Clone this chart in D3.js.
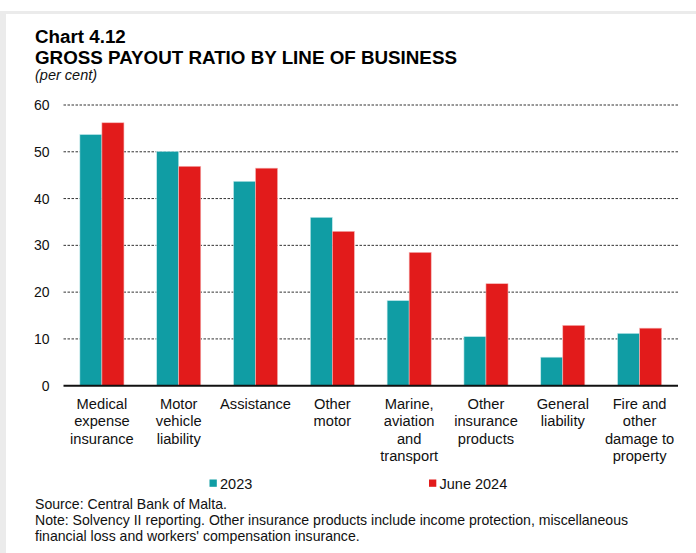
<!DOCTYPE html>
<html><head><meta charset="utf-8">
<script src="https://cdn.jsdelivr.net/npm/d3@7"></script>
<style>body{margin:0;background:#fff;}svg{display:block;font-family:"Liberation Sans",Arial,sans-serif;}</style>
</head><body>
<svg id="c" width="696" height="553"></svg>
<script>
const categories = [
  ["Medical","expense","insurance"],
  ["Motor","vehicle","liability"],
  ["Assistance"],
  ["Other","motor"],
  ["Marine,","aviation","and","transport"],
  ["Other","insurance","products"],
  ["General","liability"],
  ["Fire and","other","damage to","property"]
];
const series2023 = [53.7, 50.1, 43.7, 36.0, 18.2, 10.5, 6.1, 11.2];
const seriesJune2024 = [56.2, 46.9, 46.5, 33.0, 28.5, 21.8, 12.9, 12.3];
const seriesNames = ["2023", "June 2024"];
const yTicks = [0, 10, 20, 30, 40, 50, 60];
const colors = ["#109da4", "#e21b1b"];

const svg = d3.select("#c");
// frame
svg.append("rect").attr("x", 0).attr("y", 11).attr("width", 696).attr("height", 3).attr("fill", "#ebebeb");
svg.append("rect").attr("x", 0).attr("y", 11).attr("width", 6).attr("height", 560).attr("fill", "#ebebeb");

svg.append("text").attr("x", 35).attr("y", 42.5).attr("font-size", 18.8).attr("font-weight", "bold").attr("fill", "#000").text("Chart 4.12");
svg.append("text").attr("x", 35).attr("y", 63.5).attr("font-size", 18.8).attr("font-weight", "bold").attr("fill", "#000").text("GROSS PAYOUT RATIO BY LINE OF BUSINESS");
svg.append("text").attr("x", 35).attr("y", 80).attr("font-size", 14.5).attr("font-style", "italic").attr("fill", "#111").text("(per cent)");

const x0 = 63.5, x1 = 678, yTop = 105, yBot = 385.7;
const idx = d3.range(categories.length);
const x = d3.scaleBand().domain(idx).range([x0, x1]).paddingInner(0.426).paddingOuter(0.213);
const xs = d3.scaleBand().domain([0,1]).range([0, x.bandwidth()]);
const y = d3.scaleLinear().domain([0, 60]).range([yBot, yTop]);

// grid
svg.append("g").selectAll("line").data(yTicks.filter(d => d > 0)).join("line")
  .attr("x1", x0).attr("x2", x1).attr("y1", d => y(d)).attr("y2", d => y(d))
  .attr("stroke", "#333").attr("stroke-width", 1).attr("stroke-dasharray", "2.5,1.5");

const yAxis = svg.append("g").attr("transform", `translate(${x0},0)`)
  .call(d3.axisLeft(y).tickValues(yTicks).tickSize(0).tickPadding(14));
yAxis.select(".domain").remove();
yAxis.selectAll("text").attr("font-size", 14).attr("fill", "#111").attr("font-family", "Liberation Sans, Arial, sans-serif");

const data = [series2023, seriesJune2024];
data.forEach((vals, s) => {
  svg.append("g").selectAll("rect").data(vals).join("rect")
    .attr("x", (d, i) => x(i) + xs(s))
    .attr("y", d => y(d))
    .attr("width", xs.bandwidth())
    .attr("height", d => y(0) - y(d))
    .attr("fill", colors[s])
    .attr("stroke", s === 0 ? "#c9ecee" : "#f6b5b5").attr("stroke-width", 0.6);
});

svg.append("line").attr("x1", x0).attr("x2", x1).attr("y1", y(0)).attr("y2", y(0))
  .attr("stroke", "#111").attr("stroke-width", 2);

const xl = svg.append("g");
categories.forEach((lines, i) => {
  const t = xl.append("text").attr("text-anchor", "middle").attr("font-size", 14.7).attr("fill", "#111");
  lines.forEach((ln, j) => {
    t.append("tspan").attr("x", x(i) + x.bandwidth() / 2).attr("y", 409 + j * 17.4).text(ln);
  });
});

// legend
const legX = [209.5, 429];
seriesNames.forEach((n, s) => {
  svg.append("rect").attr("x", legX[s]).attr("y", 479.5).attr("width", 7.3).attr("height", 7.3).attr("fill", colors[s]);
  svg.append("text").attr("x", legX[s] + 10.5).attr("y", 488.5).attr("font-size", 14.5).attr("fill", "#111").text(n);
});

const notes = [
  "Source: Central Bank of Malta.",
  "Note: Solvency II reporting. Other insurance products include income protection, miscellaneous",
  "financial loss and workers' compensation insurance."
];
notes.forEach((n, i) => {
  svg.append("text").attr("x", 35).attr("y", 508.5 + i * 16.3).attr("font-size", 14.1).attr("fill", "#111").text(n);
});
</script>
</body></html>
